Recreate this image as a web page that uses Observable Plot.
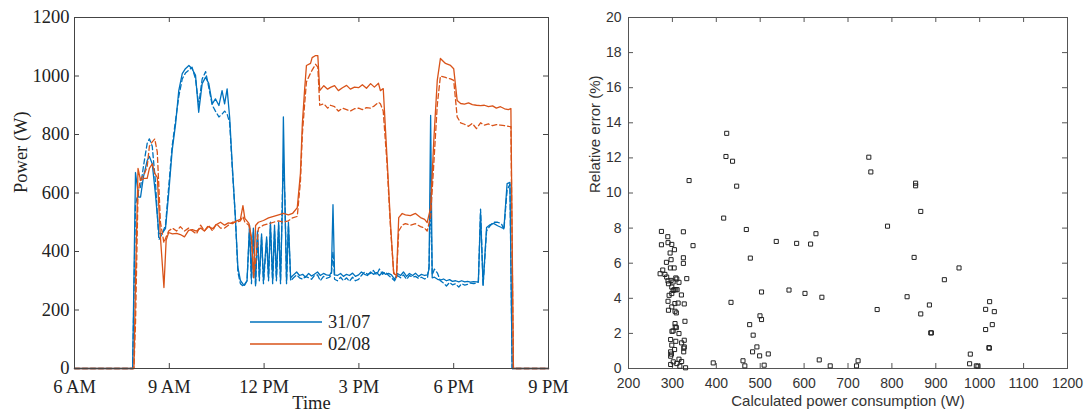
<!DOCTYPE html>
<html><head><meta charset="utf-8">
<script src="https://cdn.jsdelivr.net/npm/d3@7"></script>
<script src="https://cdn.jsdelivr.net/npm/@observablehq/plot@0.6"></script>
<style>
body{margin:0;background:#fff;}
#wrap{position:relative;width:1091px;height:414px;overflow:hidden;background:#fff;}
#left{position:absolute;left:0;top:0;}
#right{position:absolute;left:575px;top:0;}
#legend{position:absolute;left:250px;top:311px;font-family:"Liberation Serif","Times New Roman",serif;font-size:18.5px;color:#222;}
.row{display:flex;align-items:center;height:22px;}
.row svg{margin-right:6px;display:block;}
</style></head>
<body><div id="wrap"><div id="left"></div><div id="right"></div><div id="legend"></div></div>
<script>
// ---- Left chart: power over the day (hours, W) ----
const seriesNames = ["31/07", "02/08"];
const timeTicks = [6, 9, 12, 15, 18, 21];
const timeTickLabels = ["6 AM", "9 AM", "12 PM", "3 PM", "6 PM", "9 PM"];
const powerTicks = [0, 200, 400, 600, 800, 1000, 1200];

const day1Time = [
  6.00, 7.84, 7.93, 8.03, 8.09, 8.18, 8.30, 8.37, 8.46, 8.56,
  8.67, 8.77, 8.88, 8.98, 9.09, 9.20, 9.30, 9.41, 9.51, 9.62,
  9.72, 9.83, 9.93, 10.04, 10.15, 10.25, 10.36, 10.46, 10.57, 10.67,
  10.75, 10.83, 10.91, 10.99, 11.09, 11.17, 11.25, 11.36, 11.46, 11.54,
  11.60, 11.66, 11.73, 11.79, 11.85, 11.92, 11.98, 12.08, 12.14, 12.20,
  12.27, 12.33, 12.39, 12.46, 12.52, 12.58, 12.61, 12.66, 12.71, 12.77,
  12.84, 12.93, 13.03, 13.12, 13.22, 13.31, 13.41, 13.50, 13.59, 13.69,
  13.78, 13.88, 13.97, 14.07, 14.13, 14.18, 14.23, 14.32, 14.42, 14.51,
  14.61, 14.70, 14.80, 14.89, 14.99, 15.08, 15.18, 15.27, 15.37, 15.46,
  15.56, 15.65, 15.75, 15.84, 15.94, 16.03, 16.13, 16.22, 16.32, 16.41,
  16.51, 16.60, 16.70, 16.79, 16.89, 16.98, 17.08, 17.17, 17.22, 17.27,
  17.32, 17.39, 17.49, 17.58, 17.68, 17.77, 17.87, 17.96, 18.06, 18.16,
  18.25, 18.35, 18.44, 18.53, 18.63, 18.72, 18.78, 18.85, 18.93, 19.04,
  19.13, 19.26, 19.39, 19.51, 19.59, 19.69, 19.78, 19.85, 21.00
];
const day1Measured = [
  0, 0, 670, 586, 586, 654, 711, 725, 700, 598,
  461, 461, 479, 598, 745, 837, 950, 1008, 1025, 1036,
  1025, 1002, 876, 974, 996, 974, 905, 922, 899, 950,
  905, 956, 859, 700, 517, 346, 301, 284, 300, 490,
  310, 480, 290, 470, 310, 460, 300, 450, 310, 500,
  300, 490, 310, 500, 300, 560, 860, 560, 300, 500,
  310, 320, 330, 318, 322, 312, 325, 316, 322, 330,
  318, 325, 320, 318, 330, 560, 320, 318, 325, 315,
  322, 318, 326, 315, 320, 330, 322, 318, 330, 322,
  328, 318, 330, 322, 325, 320, 305, 325, 318, 330,
  315, 325, 318, 326, 315, 322, 318, 320, 340, 865,
  310, 312, 305, 302, 306, 300, 304, 298, 300, 296,
  300, 296, 298, 295, 297, 296, 296, 533, 284, 482,
  490, 496, 488, 482, 479, 632, 636, 0, 0
];
const day1Estimated = [
  0, 0, 560, 610, 620, 690, 770, 785, 760, 640,
  440, 460, 490, 620, 760, 850, 930, 990, 1010, 1020,
  1030, 990, 900, 990, 1015, 960, 900, 880, 860, 870,
  880, 870, 840, 690, 520, 330, 290, 280, 300, 480,
  290, 470, 280, 460, 300, 450, 290, 440, 300, 490,
  290, 470, 300, 490, 290, 600, 700, 580, 290, 490,
  300, 310, 320, 310, 305, 315, 310, 305, 318, 320,
  300, 315, 308, 312, 320, 400, 305, 300, 312, 300,
  310, 298, 312, 300, 305, 318, 330, 322, 325, 335,
  320, 340, 322, 330, 318, 310, 300, 318, 310, 320,
  305, 318, 312, 315, 308, 312, 306, 310, 350, 600,
  320, 340, 325, 300, 292, 282, 294, 286, 290, 278,
  290, 285, 288, 292, 290, 292, 295, 545, 285, 470,
  485, 500, 500, 495, 475, 610, 630, 0, 0
];

const day2Time = [
  6.00, 7.88, 7.93, 8.01, 8.09, 8.19, 8.30, 8.37, 8.46, 8.54,
  8.62, 8.72, 8.83, 8.90, 8.98, 9.10, 9.23, 9.35, 9.48, 9.61,
  9.73, 9.86, 9.99, 10.11, 10.24, 10.37, 10.49, 10.62, 10.75, 10.87,
  11.00, 11.13, 11.25, 11.33, 11.39, 11.52, 11.60, 11.67, 11.73, 11.82,
  11.98, 12.14, 12.30, 12.46, 12.61, 12.77, 12.90, 13.05, 13.15, 13.21,
  13.28, 13.34, 13.47, 13.52, 13.63, 13.70, 13.76, 13.89, 14.01, 14.10,
  14.23, 14.35, 14.48, 14.61, 14.73, 14.86, 14.99, 15.11, 15.24, 15.37,
  15.49, 15.62, 15.68, 15.77, 15.89, 16.00, 16.10, 16.19, 16.26, 16.37,
  16.47, 16.63, 16.79, 16.95, 17.08, 17.16, 17.27, 17.37, 17.48, 17.58,
  17.74, 17.90, 18.00, 18.11, 18.22, 18.34, 18.47, 18.59, 18.72, 18.85,
  18.97, 19.10, 19.23, 19.35, 19.48, 19.61, 19.73, 19.81, 19.89, 21.00
];
const day2Measured = [
  0, 0, 300, 684, 643, 650, 650, 684, 700, 667,
  653, 448, 277, 438, 465, 460, 462, 458, 450, 472,
  475, 470, 480, 470, 485, 478, 492, 500, 490, 498,
  495, 505, 510, 557, 513, 496, 448, 310, 489, 500,
  506, 515, 520, 525, 530, 525, 530, 550, 667, 837,
  950, 1036, 1043, 1063, 1070, 1070, 950, 967, 955, 961,
  967, 950, 960, 968, 955, 962, 960, 970, 958, 974,
  962, 975, 950, 957, 721, 496, 325, 318, 516, 530,
  525, 523, 530, 516, 510, 499, 550, 779, 985, 1060,
  1043, 1036, 1025, 916, 906, 904, 908, 902, 900, 899,
  900, 895, 898, 890, 895, 888, 885, 889, 0, 0
];
const day2Estimated = [
  0, 0, 150, 600, 650, 660, 690, 760, 775, 785,
  740, 500, 430, 450, 470, 480, 470, 485, 470, 480,
  470, 460, 490, 470, 490, 470, 495, 480, 480, 490,
  500, 500, 505, 520, 500, 490, 440, 320, 360, 480,
  490, 495, 500, 505, 500, 505, 515, 520, 640, 800,
  900, 980, 1010, 1020, 1040, 1030, 900, 905, 890, 900,
  895, 880, 890, 885, 880, 888, 890, 885, 892, 890,
  898, 910, 905, 880, 700, 480, 330, 310, 470, 490,
  495, 490, 495, 485, 480, 470, 520, 700, 900, 1000,
  995, 990, 985, 860, 840, 835, 828, 838, 820, 840,
  832, 836, 830, 834, 832, 830, 828, 827, 0, 0
];

// ---- Right chart: relative error vs calculated power ----
const powerAxisTicks = [200, 300, 400, 500, 600, 700, 800, 900, 1000, 1100, 1200];
const errorTicks = [0, 2, 4, 6, 8, 10, 12, 14, 16, 18, 20];
const scatterPower = [
  275, 275, 289.5, 290, 298.6, 304.6, 294.8, 297, 286.4, 278,
  272, 283, 287, 295.5, 304, 291, 290, 297, 301.6, 307.7,
  310, 315, 298.6, 301.6, 304, 307.7, 310.7, 298.6, 320.5, 292.5,
  290, 305.6, 313, 327, 291, 298.6, 306, 309, 328.6, 306,
  306.5, 309, 299, 301.6, 315, 296, 307.7, 321, 327, 298.6,
  305, 326, 327, 325.8, 296, 296, 297.8, 302, 296, 315,
  321, 310, 317, 330, 325, 325, 325, 332.7, 338, 347,
  393, 416.8, 422, 423.7, 437, 446.4, 433.5, 468.4, 477.5, 476,
  484, 482.6, 492.5, 498.7, 499.5, 503, 503, 518.4, 460.8, 465,
  509, 536.6, 565.6, 583, 602, 614.8, 627, 634.5, 640.5, 659.5,
  719.4, 723, 747.4, 752, 766.4, 790, 834.6, 850.6, 854, 854,
  865.7, 865.7, 885.4, 888.5, 890, 919.5, 952.9, 978.6, 977, 992.3,
  996, 1013.5, 1022.6, 1033.3, 1013.5, 1028.7, 1021, 1022
];
const scatterError = [
  7.81, 7.05, 7.51, 7.17, 7.07, 6.77, 6.58, 6.20, 6.05, 5.61,
  5.40, 5.36, 5.21, 5.73, 5.73, 4.83, 4.99, 5.02, 4.93, 5.16,
  5.10, 4.91, 4.64, 4.45, 4.49, 4.49, 4.49, 4.27, 4.19, 4.17,
  3.83, 3.70, 3.73, 3.68, 3.32, 3.51, 3.26, 3.17, 2.69, 2.56,
  2.37, 2.33, 2.12, 2.14, 1.99, 1.65, 1.55, 1.46, 1.61, 1.33,
  1.08, 1.16, 1.23, 0.95, 0.95, 0.70, 0.82, 0.38, 0.23, 0.53,
  0.40, 0.28, 0.13, 0.04, 7.79, 6.31, 5.99, 5.12, 10.71, 7.00,
  0.32, 8.57, 12.08, 13.40, 11.81, 10.39, 3.77, 7.92, 6.29, 2.50,
  1.90, 0.95, 1.23, 0.72, 3.00, 2.79, 4.36, 0.83, 0.44, 0.15,
  0.19, 7.24, 4.47, 7.13, 4.28, 7.09, 7.68, 0.49, 4.06, 0.15,
  0.15, 0.44, 12.04, 11.20, 3.36, 8.11, 4.09, 6.33, 10.56, 10.41,
  8.95, 3.11, 3.62, 2.03, 2.03, 5.06, 5.73, 0.82, 0.27, 0.15,
  0.13, 3.37, 3.81, 3.24, 2.22, 2.50, 1.19, 1.16
];

// ---- build ----
const blue = "#0072BD", orange = "#D95319";
const toRows = (t, m, e) => t.map((d, i) => ({t: d, measured: m[i], estimated: e[i]}));
const d1 = toRows(day1Time, day1Measured, day1Estimated);
const d2 = toRows(day2Time, day2Measured, day2Estimated);
const scatter = scatterPower.map((p, i) => ({power: p, error: scatterError[i]}));

const tick = 5;
function frameTicks(xt, yt, pw, ph, color) {
  return [
    Plot.ruleX(xt, {x: d => d, insetTop: ph - tick, stroke: color}),
    Plot.ruleX(xt, {x: d => d, insetBottom: ph - tick, stroke: color}),
    Plot.ruleY(yt, {y: d => d, insetRight: pw - tick, stroke: color}),
    Plot.ruleY(yt, {y: d => d, insetLeft: pw - tick, stroke: color})
  ];
}

{
  const W = 575, H = 414, mL = 74, mR = 27, mT = 17, mB = 46;
  const pw = W - mL - mR, ph = H - mT - mB;
  const chart = Plot.plot({
    width: W, height: H, marginLeft: mL, marginRight: mR, marginTop: mT, marginBottom: mB,
    style: {fontFamily: '"Liberation Serif", "Times New Roman", serif', fontSize: "18.5px", color: "#222", background: "transparent", overflow: "visible"},
    x: {domain: [6, 21]},
    y: {domain: [0, 1200]},
    marks: [
      Plot.line(d1, {x: "t", y: "measured", stroke: blue, strokeWidth: 1.3}),
      Plot.line(d1, {x: "t", y: "estimated", stroke: blue, strokeWidth: 1.3, strokeDasharray: "5,3"}),
      Plot.line(d2, {x: "t", y: "measured", stroke: orange, strokeWidth: 1.3}),
      Plot.line(d2, {x: "t", y: "estimated", stroke: orange, strokeWidth: 1.3, strokeDasharray: "5,3"}),
      Plot.frame({stroke: "#444"}),
      ...frameTicks(timeTicks, powerTicks, pw, ph, "#444"),
      Plot.axisX({ticks: timeTicks, tickSize: 0, tickPadding: 11, tickFormat: d => timeTickLabels[timeTicks.indexOf(d)], label: null}),
      Plot.axisY({ticks: powerTicks, tickSize: 0, tickPadding: 5, tickFormat: d => String(d), label: null}),
      Plot.text(["Time"], {text: d => d, frameAnchor: "bottom", dy: 40}),
      Plot.text(["Power (W)"], {text: d => d, frameAnchor: "left", dx: -53, rotate: -90})
    ]
  });
  document.getElementById("left").append(chart);
}

{
  const W = 516, H = 414, mL = 53, mR = 24, mT = 17, mB = 46;
  const pw = W - mL - mR, ph = H - mT - mB;
  const chart = Plot.plot({
    width: W, height: H, marginLeft: mL, marginRight: mR, marginTop: mT, marginBottom: mB,
    style: {fontFamily: '"Liberation Sans", Arial, sans-serif', fontSize: "14px", color: "#333", background: "transparent", overflow: "visible"},
    x: {domain: [200, 1200]},
    y: {domain: [0, 20]},
    marks: [
      Plot.frame({stroke: "#555"}),
      ...frameTicks(powerAxisTicks, errorTicks, pw, ph, "#555"),
      Plot.dot(scatter, {x: "power", y: "error", symbol: "square", r: 2.3, stroke: "#222", strokeWidth: 1, fill: "none"}),
      Plot.axisX({ticks: powerAxisTicks, tickSize: 0, tickPadding: 10, tickFormat: d => String(d), label: null}),
      Plot.axisY({ticks: errorTicks, tickSize: 0, tickPadding: 7, tickFormat: d => String(d), label: null}),
      Plot.text(["Calculated power consumption (W)"], {text: d => d, frameAnchor: "bottom", dy: 37, fontSize: 15}),
      Plot.text(["Relative error (%)"], {text: d => d, frameAnchor: "left", dx: -33, rotate: -90, fontSize: 15})
    ]
  });
  document.getElementById("right").append(chart);
}

// legend (inside left plot)
const legend = document.getElementById("legend");
[[seriesNames[0], blue], [seriesNames[1], orange]].forEach(([name, color]) => {
  const row = document.createElement("div");
  row.className = "row";
  row.innerHTML = `<svg width="72" height="4"><line x1="0" x2="72" y1="2" y2="2" stroke="${color}" stroke-width="1.3"/></svg><span>${name}</span>`;
  legend.append(row);
});
</script></body></html>
